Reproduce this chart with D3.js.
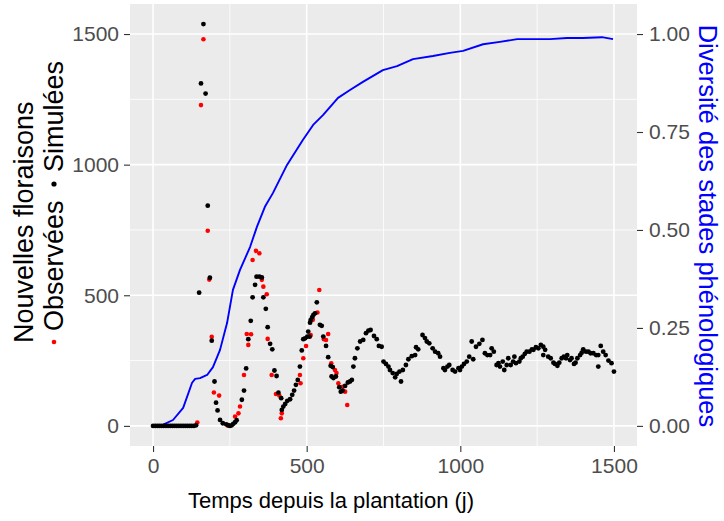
<!DOCTYPE html>
<html>
<head>
<meta charset="utf-8">
<script src="https://cdn.jsdelivr.net/npm/d3@7"></script>
<style>
  body { margin: 0; background: #fff; }
  svg { font-family: "Liberation Sans", Arial, sans-serif; }
</style>
</head>
<body>
<svg width="724" height="521"></svg>
<script>
// new flowerings, simulated (black) : [day, count]
const simulated = [
  [0,0],[7,0],[14,0],[21,0],[28,0],[35,0],[42,0],[49,0],[56,0],[63,0],[70,0],[77,0],[84,0],
  [91,0],[98,0],[105,0],[112,0],[119,0],[126,0],[133,0],[140,2],
  [150,510],[156,1311],[164,1538],[171,1272],[178,843],[185,567],[191,326],[200,170],[205,89],
  [210,59],[218,23],[227,10],[238,6],[244,3],[250,0],[256,2],[261,8],[267,14],[272,22],[289,100],
  [296,135],[303,220],[310,332],[318,402],[324,492],[332,540],[337,571],[346,571],[354,568],
  [359,492],[367,448],[373,378],[381,314],[388,293],[395,212],[402,191],[408,127],[417,106],
  [419,61],[424,74],[430,84],[437,96],[446,102],[453,119],[459,135],[465,157],[471,176],
  [478,227],[484,289],[489,332],[495,335],[502,342],[505,361],[509,342],[511,395],[513,405],
  [518,416],[522,425],[527,431],[533,473],[543,387],[549,383],[554,342],[563,306],[570,263],
  [578,230],[581,189],[585,225],[587,183],[595,189],[606,148],[611,131],[617,135],[625,153],
  [634,166],[641,170],[647,176],[652,227],[657,259],[665,297],[674,323],[684,329],[693,355],
  [701,365],[708,367],[719,344],[728,332],[735,306],[744,303],[750,246],[758,237],[766,227],
  [771,214],[780,202],[788,186],[793,199],[802,208],[807,170],[813,214],[823,233],[831,255],
  [842,267],[853,271],[856,301],[863,293],[877,348],[885,336],[891,323],[899,316],[910,297],
  [918,284],[928,278],[934,265],[945,221],[950,214],[958,227],[964,233],[975,214],[983,208],
  [994,221],[999,214],[1005,227],[1012,237],[1021,246],[1029,265],[1037,323],[1042,255],
  [1051,303],[1062,314],[1072,329],[1080,278],[1088,271],[1097,271],[1102,297],[1109,284],
  [1118,233],[1124,240],[1129,227],[1138,246],[1143,214],[1151,233],[1156,259],[1164,233],
  [1172,246],[1176,265],[1181,240],[1192,246],[1197,259],[1203,265],[1210,276],[1216,284],
  [1225,284],[1233,293],[1238,291],[1246,301],[1254,297],[1262,310],[1270,303],[1270,271],
  [1276,291],[1286,265],[1294,259],[1303,242],[1308,237],[1316,230],[1322,242],[1330,259],
  [1337,265],[1344,259],[1348,271],[1357,252],[1362,259],[1370,237],[1375,242],[1381,259],
  [1390,271],[1395,280],[1400,293],[1409,284],[1417,284],[1424,278],[1433,278],[1442,271],
  [1449,271],[1449,227],[1457,306],[1465,284],[1473,271],[1482,250],[1492,240],[1500,208]
];

// new flowerings, observed (red)
const observed = [
  [144,13],[156,1228],[164,1480],[178,747],[183,560],[191,341],[198,128],[215,116],[243,1],
  [267,36],[278,48],[283,74],[296,195],[305,352],[310,310],[319,351],[324,635],[335,670],
  [346,661],[354,559],[359,533],[370,504],[373,333],[386,195],[400,122],[411,116],[416,29],
  [419,48],[478,195],[480,163],[489,259],[498,306],[511,342],[513,348],[520,406],[535,434],
  [541,520],[556,332],[563,329],[570,352],[580,240],[592,214],[597,202],[603,163],[617,150],
  [625,131],[632,80]
];

// diversity of phenological stages (right axis)
const diversity = [
  [0,0],[33,0.003],[65,0.015],[98,0.046],[127,0.11],[137,0.12],[153,0.122],[176,0.13],
  [195,0.15],[218,0.194],[241,0.263],[260,0.347],[283,0.398],[316,0.457],[338,0.508],
  [364,0.559],[390,0.594],[436,0.666],[488,0.73],[521,0.768],[553,0.793],[602,0.837],
  [641,0.857],[683,0.878],[748,0.908],[794,0.918],[846,0.936],[911,0.944],[966,0.952],
  [1009,0.957],[1074,0.974],[1129,0.98],[1185,0.987],[1237,0.987],[1292,0.987],[1347,0.99],
  [1399,0.99],[1461,0.992],[1497,0.987]
];

const xTicks = [0, 500, 1000, 1500];
const xMinor = [250, 750, 1250];
const yTicks = [0, 500, 1000, 1500];
const yMinor = [250, 750, 1250];
const y2Ticks = [0, 0.25, 0.5, 0.75, 1];

const svg = d3.select('svg');
const panel = {left: 130, right: 637, top: 4, bottom: 446};

const x = d3.scaleLinear().domain([-75, 1575]).range([panel.left, panel.right]);
const y = d3.scaleLinear().domain([-77, 1615]).range([panel.bottom, panel.top]);
const y2 = d3.scaleLinear().domain([0, 1]).range([y(0), y(1500)]);

// panel background + grid
svg.append('rect')
  .attr('x', panel.left).attr('y', panel.top)
  .attr('width', panel.right - panel.left).attr('height', panel.bottom - panel.top)
  .attr('fill', '#EBEBEB');

const grid = svg.append('g');
grid.selectAll('.vminor').data(xMinor).enter().append('line')
  .attr('x1', d => x(d)).attr('x2', d => x(d))
  .attr('y1', panel.top).attr('y2', panel.bottom)
  .attr('stroke', 'white').attr('stroke-width', 0.8);
grid.selectAll('.hminor').data(yMinor).enter().append('line')
  .attr('y1', d => y(d)).attr('y2', d => y(d))
  .attr('x1', panel.left).attr('x2', panel.right)
  .attr('stroke', 'white').attr('stroke-width', 0.8);
grid.selectAll('.vmajor').data(xTicks).enter().append('line')
  .attr('x1', d => x(d)).attr('x2', d => x(d))
  .attr('y1', panel.top).attr('y2', panel.bottom)
  .attr('stroke', 'white').attr('stroke-width', 1.6);
grid.selectAll('.hmajor').data(yTicks).enter().append('line')
  .attr('y1', d => y(d)).attr('y2', d => y(d))
  .attr('x1', panel.left).attr('x2', panel.right)
  .attr('stroke', 'white').attr('stroke-width', 1.6);

// diversity curve
const line = d3.line().x(d => x(d[0])).y(d => y2(d[1]));
svg.append('path')
  .datum(diversity)
  .attr('d', line)
  .attr('fill', 'none')
  .attr('stroke', '#0000FF')
  .attr('stroke-width', 1.9)
  .attr('stroke-linejoin', 'round');

// points
svg.append('g').selectAll('circle').data(observed).enter().append('circle')
  .attr('cx', d => x(d[0])).attr('cy', d => y(d[1]))
  .attr('r', 2.3).attr('fill', '#FF0000');
svg.append('g').selectAll('circle').data(simulated).enter().append('circle')
  .attr('cx', d => x(d[0])).attr('cy', d => y(d[1]))
  .attr('r', 2.4).attr('fill', 'black');

// axes
const styleAxis = g => {
  g.select('.domain').remove();
  g.selectAll('.tick line').attr('stroke', '#333333').attr('stroke-width', 1.1);
  g.selectAll('.tick text').attr('fill', '#4D4D4D')
    .style('font-size', '21px').style('font-family', '"Liberation Sans", Arial, sans-serif');
};

svg.append('g')
  .attr('transform', `translate(0,${panel.bottom})`)
  .call(d3.axisBottom(x).tickValues(xTicks).tickFormat(d3.format('d')).tickSize(6).tickPadding(6))
  .call(styleAxis);

svg.append('g')
  .attr('transform', `translate(${panel.left},0)`)
  .call(d3.axisLeft(y).tickValues(yTicks).tickFormat(d3.format('d')).tickSize(6).tickPadding(5))
  .call(styleAxis);

svg.append('g')
  .attr('transform', `translate(${panel.right},0)`)
  .call(d3.axisRight(y2).tickValues(y2Ticks).tickFormat(d3.format('.2f')).tickSize(6).tickPadding(6))
  .call(styleAxis);

// titles
svg.append('text')
  .attr('x', 331).attr('y', 508)
  .attr('text-anchor', 'middle')
  .style('font-size', '22px').attr('fill', 'black')
  .text('Temps depuis la plantation (j)');

svg.append('text')
  .attr('transform', 'translate(33,343) rotate(-90)')
  .style('font-size', '27px').attr('fill', 'black')
  .text('Nouvelles floraisons');

// second title line: legend keys + labels
svg.append('circle').attr('cx', 54).attr('cy', 342).attr('r', 2.3).attr('fill', '#FF0000');
svg.append('text')
  .attr('transform', 'translate(63,331) rotate(-90)')
  .style('font-size', '27px').attr('fill', 'black')
  .text('Observées');
svg.append('circle').attr('cx', 54).attr('cy', 184).attr('r', 2.6).attr('fill', 'black');
svg.append('text')
  .attr('transform', 'translate(63,172) rotate(-90)')
  .style('font-size', '27px').attr('fill', 'black')
  .text('Simulées');

svg.append('text')
  .attr('transform', 'translate(699,226) rotate(90)')
  .attr('text-anchor', 'middle')
  .style('font-size', '25.5px').attr('fill', '#0000FF')
  .text('Diversité des stades phénologiques');
</script>
</body>
</html>
